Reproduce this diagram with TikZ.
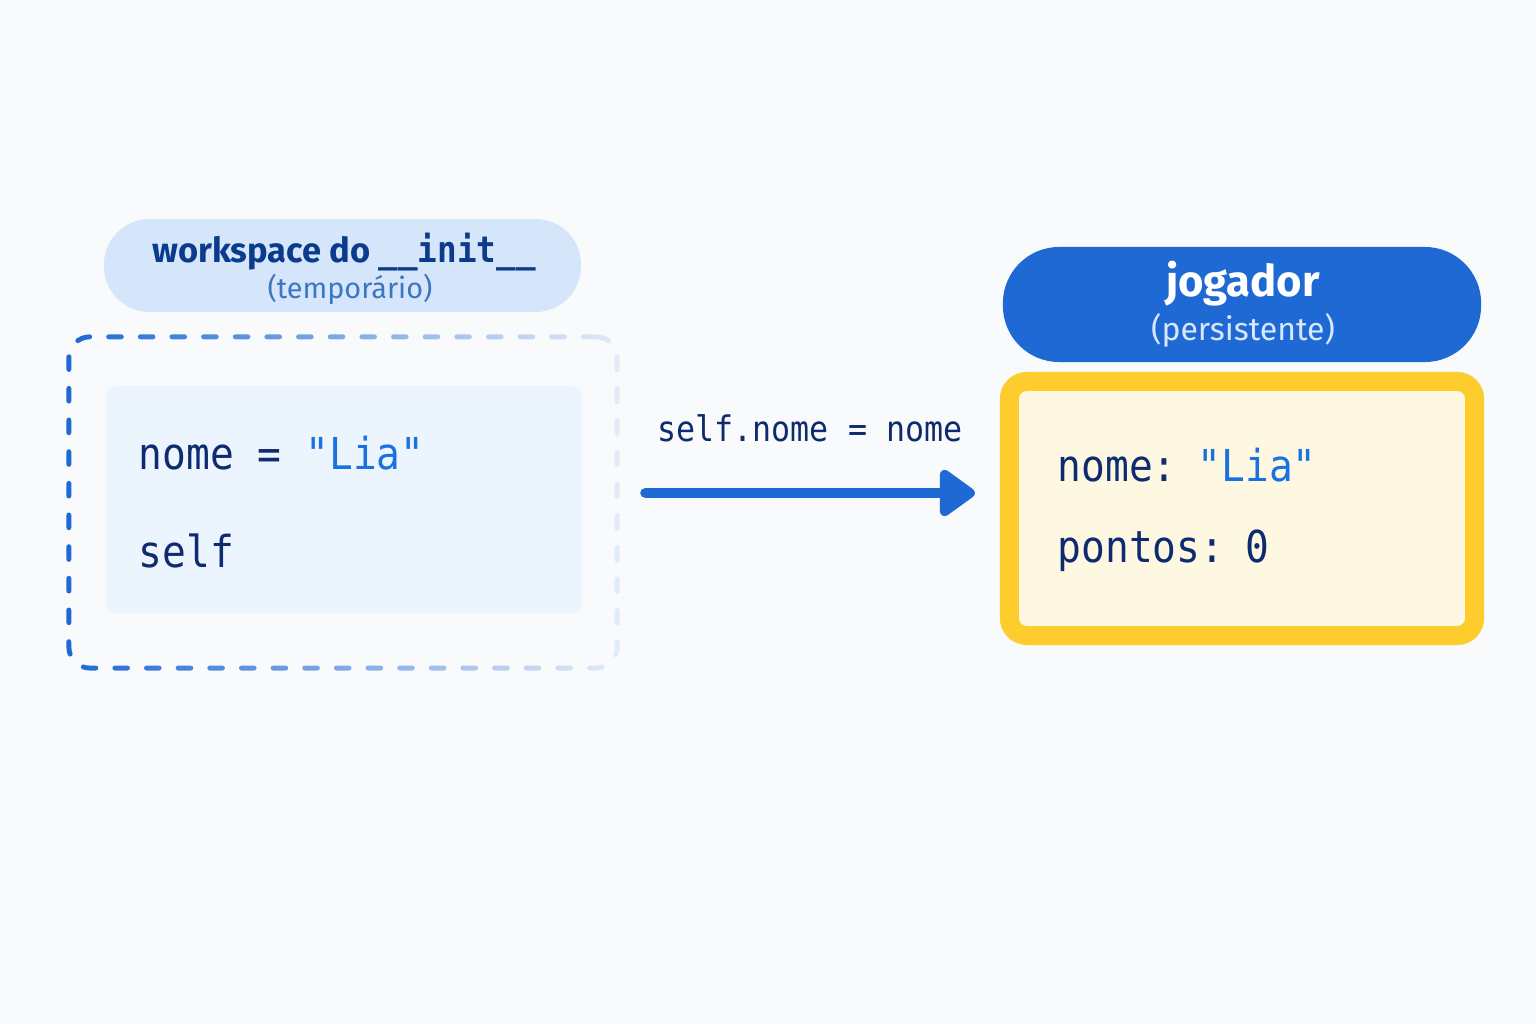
\documentclass[tikz,border=0pt]{standalone}
\usepackage{fontspec}
\setmainfont{Fira Sans}
\newfontfamily\codefont{DejaVu Sans Mono}[FakeStretch=0.9]
\usetikzlibrary{positioning,fadings,arrows.meta}
\definecolor{bgpage}{HTML}{F9FAFC}
\definecolor{navy}{HTML}{0D2B6E}
\definecolor{headnavy}{HTML}{0B3B8C}
\definecolor{midblue}{HTML}{3C75C2}
\definecolor{paleblue}{HTML}{D6E6FA}
\definecolor{icebox}{HTML}{ECF4FE}
\definecolor{royal}{HTML}{1F69D5}
\definecolor{liablue}{HTML}{1A72E0}
\definecolor{gold}{HTML}{FCCD2C}
\definecolor{cream}{HTML}{FEF7E1}
\definecolor{softwhite}{HTML}{D8E7FB}
\tikzfading[name=faderight, left color=transparent!0, right color=transparent!90]
\begin{document}
\begin{tikzpicture}[x=0.01cm, y=-0.01cm,
	code/.style={font=\codefont\fontsize{12.5}{15}\selectfont, text=navy, anchor=base west, inner sep=0pt},
	flow/.style={royal, line width=3.1pt, line cap=round, -{Triangle[length=11pt, width=15pt, round]}}]
	\fill[bgpage] (0,0) rectangle (1536,1024);
	\useasboundingbox (0,0) rectangle (1536,1024);
	\node [fill=paleblue, rounded corners=13pt, minimum width=4.77cm, minimum height=0.93cm] (wshead) at (342.5,265.5) {};
	\node [anchor=base, font=\bfseries\fontsize{9.8}{12}\selectfont, text=headnavy] (wstitle) at (344,262) {workspace do {\codefont\fontsize{10.3}{12}\selectfont\_\_init\_\_}};
	\node [anchor=base, font=\fontsize{8.2}{10}\selectfont, text=midblue] (wsnote) at (350,298) {(temporário)};
	\node [draw=royal, line width=1.4pt, dash pattern=on 3.6pt off 5.4pt, line cap=round, rounded corners=6pt, path fading=faderight, minimum width=5.48cm, minimum height=3.31cm] (work) at (343,502.5) {};
	\node [fill=icebox, rounded corners=3pt, minimum width=4.76cm, minimum height=2.27cm] (scratch) at (344,499.5) {};
	\node [code] (tmpnome) at (138,469) {nome = \textcolor{liablue}{"Lia"}};
	\node [code] (tmpself) at (138,567) {self};
	\node [fill=royal, rounded corners=16pt, minimum width=4.78cm, minimum height=1.15cm] (objhead) at (1242,304.5) {};
	\node [anchor=base, font=\bfseries\fontsize{12.4}{15}\selectfont, text=white] (objtitle) at (1243,296) {jogador};
	\node [anchor=base, font=\fontsize{9.1}{11}\selectfont, text=softwhite] (objnote) at (1243,340) {(persistente)};
	\node [draw=gold, fill=cream, line width=5.4pt, rounded corners=5pt, minimum width=4.65cm, minimum height=2.54cm] (obj) at (1242,508.5) {};
	\node [code] (objnome) at (1057,481) {nome:\hspace{-0.25em} \textcolor{liablue}{"Lia"}};
	\node [code] (objpts) at (1057,562) {pontos:\hspace{-0.25em} 0};
	\draw [flow, shorten <=0.26cm, shorten >=0.25cm] (work.east |- 0,493) -- (obj.west |- 0,493);
	\node [anchor=base, font=\codefont\fontsize{10}{12}\selectfont, text=navy] (assign) at (810,441) {self.nome = nome};
\end{tikzpicture}
\end{document}
